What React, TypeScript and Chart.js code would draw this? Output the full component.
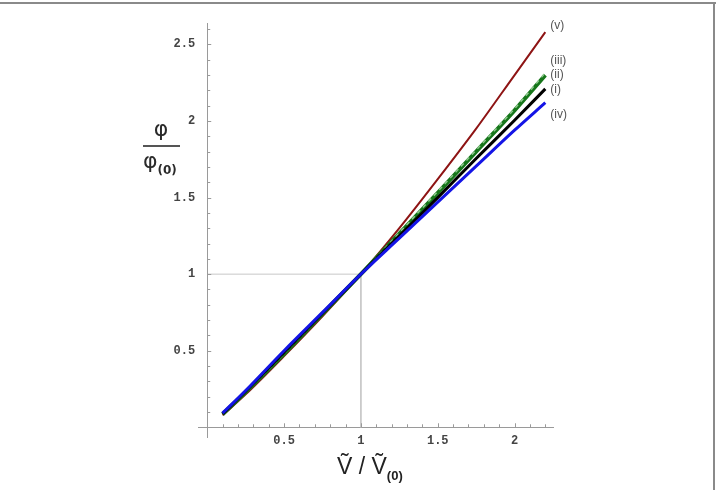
import React, { useEffect, useRef } from "react";
import { Chart, registerables } from "chart.js";
Chart.register(...registerables);

// ---- data ----
const ratioV = [0.1, 0.25, 0.5, 0.75, 1, 1.25, 1.5, 1.75, 2, 2.2];
const curveI = [0.088, 0.235, 0.49, 0.745, 1, 1.25, 1.5, 1.755, 2.005, 2.21];
const curveII = [0.085, 0.23, 0.48, 0.74, 1, 1.265, 1.53, 1.8, 2.07, 2.3];
const curveIII = [0.085, 0.232, 0.482, 0.742, 1, 1.27, 1.54, 1.81, 2.08, 2.315];
const curveIV = [0.092, 0.24, 0.5, 0.75, 1, 1.235, 1.47, 1.705, 1.94, 2.12];
const curveV = [0.078, 0.215, 0.465, 0.725, 1, 1.3, 1.62, 1.95, 2.3, 2.58];
const curveNames = ["(i)", "(ii)", "(iii)", "(iv)", "(v)"];
const refLineX = [0, 1, 1];
const refLineY = [1, 1, 0];
const labelledTickStep = 0.5;
const minorTickStep = 0.1;

const toPts = (xs: number[], ys: number[]) => xs.map((x, i) => ({ x, y: ys[i] }));
const isMajor = (v: number) =>
  Math.abs(v / labelledTickStep - Math.round(v / labelledTickStep)) < 1e-6;
const fmt = (v: number) => {
  if (!isMajor(v) || Math.abs(v) < 1e-9) return "";
  return String(Math.round(v * 10) / 10);
};

const tickFont = 'bold 12px "Liberation Mono", "Courier New", monospace';

const labelOffsets: Record<string, number> = {
  "(v)": -7,
  "(iii)": -12,
  "(ii)": 0,
  "(i)": 1,
  "(iv)": 12,
};

const inwardTicks = {
  id: "inwardTicks",
  afterDraw(chart: any) {
    const { ctx } = chart;
    const xs = chart.scales.x;
    const ys = chart.scales.y;
    const x0 = xs.getPixelForValue(0);
    const y0 = ys.getPixelForValue(0);
    ctx.save();
    // y axis line
    ctx.strokeStyle = "#9a9a9a";
    ctx.lineWidth = 1;
    ctx.beginPath();
    const ax = Math.round(x0) + 0.5;
    ctx.moveTo(ax, chart.chartArea.top);
    ctx.lineTo(ax, chart.chartArea.bottom);
    xs.ticks.forEach((t: any) => {
      const px = Math.round(xs.getPixelForValue(t.value)) + 0.5;
      const len = isMajor(t.value) ? 4 : 3;
      ctx.moveTo(px, y0);
      ctx.lineTo(px, y0 - len);
    });
    ys.ticks.forEach((t: any) => {
      const py = Math.round(ys.getPixelForValue(t.value)) + 0.5;
      const len = isMajor(t.value) ? 4 : 3;
      ctx.moveTo(x0, py);
      ctx.lineTo(x0 + len, py);
    });
    ctx.stroke();
    // y tick labels
    ctx.font = tickFont;
    ctx.fillStyle = "#444";
    ctx.textAlign = "right";
    ctx.textBaseline = "middle";
    ys.ticks.forEach((t: any) => {
      const s = fmt(t.value);
      if (!s) return;
      ctx.fillText(s, x0 - 12, ys.getPixelForValue(t.value));
    });
    ctx.restore();
  },
};

const curveLabels = {
  id: "curveLabels",
  afterDatasetsDraw(chart: any) {
    const { ctx } = chart;
    ctx.save();
    ctx.font = '12px "Liberation Sans", Arial, sans-serif';
    ctx.fillStyle = "#555";
    ctx.textBaseline = "middle";
    ctx.textAlign = "left";
    chart.data.datasets.forEach((ds: any, i: number) => {
      if (!ds.label) return;
      const meta = chart.getDatasetMeta(i);
      const last = meta.data[meta.data.length - 1];
      if (!last) return;
      ctx.fillText(ds.label, last.x + 5, last.y + (labelOffsets[ds.label] || 0));
    });
    ctx.restore();
  },
};

export default function App() {
  const ref = useRef<HTMLCanvasElement | null>(null);
  useEffect(() => {
    if (!ref.current) return;
    const line = (label: string, ys: number[], color: string, width: number, order: number, dash?: number[]) => ({
      label,
      data: toPts(ratioV, ys),
      borderColor: color,
      backgroundColor: color,
      borderWidth: width,
      borderDash: dash || [],
      pointRadius: 0,
      cubicInterpolationMode: "monotone" as const,
      order,
    });
    const chart = new Chart(ref.current, {
      type: "line",
      data: {
        datasets: [
          line(curveNames[3], curveIV, "#1414e6", 3, 1),
          line(curveNames[0], curveI, "#000000", 3, 2),
          line(curveNames[2], curveIII, "#8cc88c", 1.5, 3, [4, 4]),
          line(curveNames[1], curveII, "#16761a", 4, 4),
          line(curveNames[4], curveV, "#8e1414", 2, 5),
          {
            label: "",
            data: toPts(refLineX, refLineY),
            borderColor: "#c8c8c8",
            borderWidth: 1,
            pointRadius: 0,
            order: 6,
          } as any,
        ],
      },
      options: {
        animation: false,
        responsive: false,
        layout: { padding: { left: 198, top: 23, right: 163, bottom: 52 } },
        plugins: { legend: { display: false }, tooltip: { enabled: false } },
        scales: {
          x: {
            type: "linear",
            position: { y: 0 } as any,
            min: -0.06,
            max: 2.25,
            grid: { display: false, drawTicks: false },
            border: { display: true, color: "#9a9a9a", width: 1 },
            ticks: {
              stepSize: minorTickStep,
              includeBounds: false,
              autoSkip: false,
              maxRotation: 0,
              padding: 7,
              color: "#444",
              font: { family: '"Liberation Mono", "Courier New", monospace', size: 12, weight: "bold" },
              callback: (v: any) => fmt(Number(v)),
            },
          },
          y: {
            type: "linear",
            position: { x: 0 } as any,
            min: -0.07,
            max: 2.64,
            grid: { display: false, drawTicks: false },
            border: { display: false },
            ticks: {
              stepSize: minorTickStep,
              includeBounds: false,
              autoSkip: false,
              display: false,
            },
          },
        },
      } as any,
      plugins: [inwardTicks, curveLabels],
    });
    return () => chart.destroy();
  }, []);

  return (
    <div style={{ position: "fixed", left: 0, top: 0, width: 716, height: 490, background: "#fff", overflow: "hidden" }}>
      <canvas ref={ref} width={716} height={490} style={{ position: "absolute", left: 0, top: 0, width: 716, height: 490 }} />
      <div style={{ position: "absolute", left: 0, top: 2, width: 716, height: 2, background: "#8a8a8a" }} />
      <div style={{ position: "absolute", left: 713, top: 2, width: 2, height: 488, background: "#8a8a8a" }} />
      {/* y-axis title: fraction */}
      <div style={{ position: "absolute", left: 141, top: 118, width: 40, textAlign: "center", font: '22px "DejaVu Sans", sans-serif', lineHeight: "22px", color: "#2a2a2a" }}>φ</div>
      <div style={{ position: "absolute", left: 143, top: 145, width: 37, height: 2, background: "#555" }} />
      <div style={{ position: "absolute", left: 143, top: 150, width: 40, font: '22px "DejaVu Sans", sans-serif', lineHeight: "22px", color: "#2a2a2a", whiteSpace: "nowrap" }}>
        φ<span style={{ fontSize: 12, fontWeight: "bold", position: "relative", top: 6 }}>(0)</span>
      </div>
      {/* x-axis title */}
      <div style={{ position: "absolute", left: 337, top: 453, font: '23px "Liberation Sans", "DejaVu Sans", sans-serif', lineHeight: "26px", color: "#222", whiteSpace: "nowrap" }}>
        Ṽ / Ṽ<span style={{ fontSize: 13, fontWeight: "bold", position: "relative", top: 6 }}>(0)</span>
      </div>
    </div>
  );
}
